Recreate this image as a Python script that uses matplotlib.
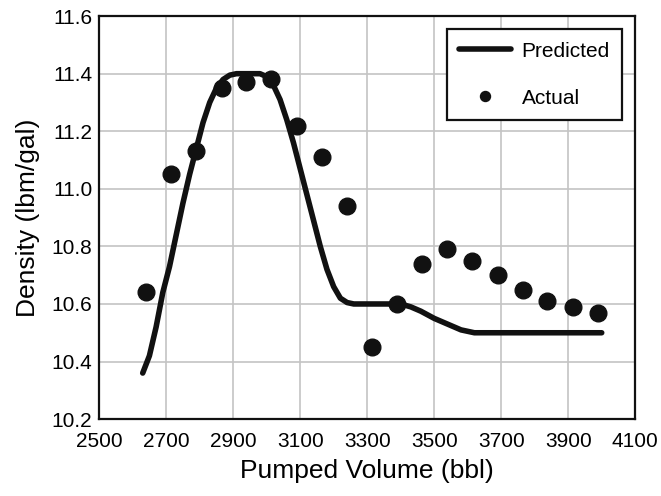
"""
Density vs pumped volume: predicted curve against measured points.
"""
import matplotlib.pyplot as plt

plt.rcParams['font.family'] = ['Liberation Sans', 'DejaVu Sans']

# predicted curve
pred_volume = [2630, 2650, 2670, 2690, 2710, 2730, 2750, 2770, 2790, 2810,
               2830, 2850, 2870, 2890, 2910, 2980, 3000, 3020, 3040, 3060,
               3080, 3100, 3120, 3140, 3160, 3180, 3200, 3220, 3240, 3260,
               3400, 3430, 3460, 3500, 3540, 3580, 3620, 3660, 4000]
pred_density = [10.36, 10.42, 10.52, 10.64, 10.73, 10.84, 10.95, 11.05, 11.14, 11.23,
                11.30, 11.35, 11.38, 11.395, 11.40, 11.40, 11.39, 11.36, 11.31, 11.24,
                11.16, 11.07, 10.98, 10.89, 10.80, 10.72, 10.66, 10.62, 10.605, 10.60,
                10.60, 10.59, 10.575, 10.55, 10.53, 10.51, 10.50, 10.50, 10.50]

# measured points
act_volume = [2639, 2714, 2788, 2866, 2939, 3014, 3090, 3164, 3239, 3314,
              3388, 3463, 3539, 3613, 3689, 3764, 3838, 3914, 3989]
act_density = [10.64, 11.05, 11.13, 11.35, 11.37, 11.38, 11.22, 11.11, 10.94, 10.45,
               10.60, 10.74, 10.79, 10.75, 10.70, 10.65, 10.61, 10.59, 10.57]

xticks = [2500, 2700, 2900, 3100, 3300, 3500, 3700, 3900, 4100]
yticks = [10.2, 10.4, 10.6, 10.8, 11.0, 11.2, 11.4, 11.6]

fig = plt.figure(figsize=(6.61, 4.96), dpi=100)
ax = fig.add_axes([0.150, 0.155, 0.811, 0.8125])

ax.plot(pred_volume, pred_density, color="#111111", linewidth=4,
        solid_capstyle="round", label="Predicted", zorder=3)
ax.plot(act_volume, act_density, linestyle="none", marker="o", markersize=12,
        color="#111111", label="Actual", zorder=4)

ax.set_xlim(2500, 4100)
ax.set_ylim(10.2, 11.6)
ax.set_xticks(xticks)
ax.set_yticks(yticks)
ax.set_yticklabels([f"{v:.1f}" for v in yticks])
ax.tick_params(length=0, labelsize=15)
ax.tick_params(axis="x", pad=9)
ax.tick_params(axis="y", pad=5)
ax.grid(True, color="#c4c4c4", linewidth=1.2)
ax.set_axisbelow(True)
for sp in ax.spines.values():
    sp.set_linewidth(1.6)
    sp.set_color("#111111")

ax.set_xlabel("Pumped Volume (bbl)", fontsize=19, labelpad=6)
ax.set_ylabel("Density (lbm/gal)", fontsize=19, labelpad=8)

leg = ax.legend(loc="upper right", fontsize=15, frameon=True, fancybox=False,
                edgecolor="#111111", framealpha=1, labelspacing=1.35,
                handlelength=2.5, handletextpad=0.5, borderpad=0.6,
                borderaxespad=0.62, markerscale=0.6)
leg.get_frame().set_linewidth(1.6)

fig.savefig("out.png", dpi=100)
